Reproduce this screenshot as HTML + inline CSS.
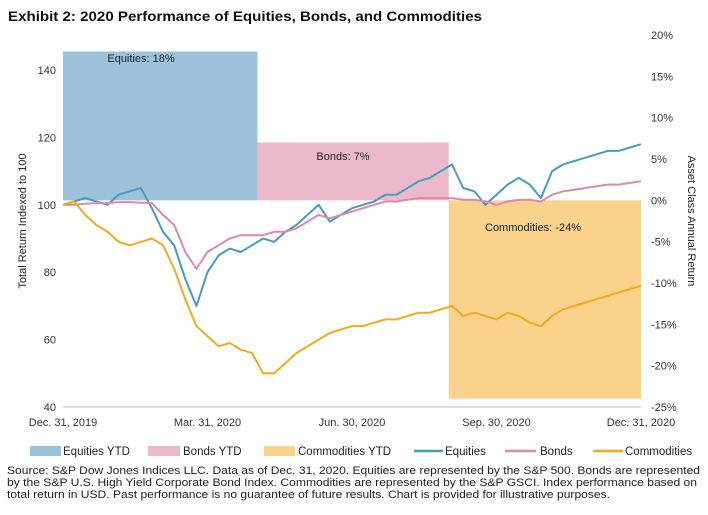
<!DOCTYPE html>
<html><head><meta charset="utf-8"><style>
body{margin:0;background:#fff;}
svg{display:block;font-family:"Liberation Sans",Arial,sans-serif;}
</style></head><body>
<svg id="chart" width="708" height="515" viewBox="0 0 708 515">
<text x="8" y="21" font-size="14" font-weight="bold" fill="#111" textLength="474" lengthAdjust="spacingAndGlyphs">Exhibit 2: 2020 Performance of Equities, Bonds, and Commodities</text>
<g id="boxes"></g>
<g id="lines"></g>
<g id="axes" font-size="11" fill="#333"></g>
<text transform="translate(26,221) rotate(-90)" text-anchor="middle" font-size="11" fill="#222">Total Return Indexed to 100</text>
<text transform="translate(688,221) rotate(90)" text-anchor="middle" font-size="11" fill="#222">Asset Class Annual Return</text>
<g font-size="11.5" fill="#222">
<rect x="30" y="446" width="31" height="10" fill="#9dc3dc"/>
<text x="63" y="455">Equities YTD</text>
<rect x="148" y="446" width="32" height="10" fill="#ebb9c8"/>
<text x="183" y="455">Bonds YTD</text>
<rect x="264" y="446" width="31" height="10" fill="#fad28c"/>
<text x="298" y="455">Commodities YTD</text>
<line x1="414" y1="451" x2="443" y2="451" stroke="#4a9ac0" stroke-width="2.5"/>
<text x="445" y="455">Equities</text>
<line x1="505" y1="451" x2="536" y2="451" stroke="#d98ab0" stroke-width="2.5"/>
<text x="540" y="455">Bonds</text>
<line x1="593" y1="451" x2="623" y2="451" stroke="#f5a91c" stroke-width="2.5"/>
<text x="625" y="455">Commodities</text>
</g>
<g font-size="11" fill="#222">
<text x="7" y="474" textLength="693" lengthAdjust="spacingAndGlyphs">Source: S&amp;P Dow Jones Indices LLC. Data as of Dec. 31, 2020. Equities are represented by the S&amp;P 500. Bonds are represented</text>
<text x="7" y="486" textLength="690" lengthAdjust="spacingAndGlyphs">by the S&amp;P U.S. High Yield Corporate Bond Index. Commodities are represented by the S&amp;P GSCI. Index performance based on</text>
<text x="7" y="498" textLength="603" lengthAdjust="spacingAndGlyphs">total return in USD. Past performance is no guarantee of future results. Chart is provided for illustrative purposes.</text>
</g>
</svg>
<script>
const xLabels = ["Dec. 31, 2019","Mar. 31, 2020","Jun. 30, 2020","Sep. 30, 2020","Dec. 31, 2020"];
const xLabelWeeks = [0,13,26,39,52];
const leftTicks = [40,60,80,100,120,140];
const rightTicks = [-25,-20,-15,-10,-5,0,5,10,15,20];
const boxNames = ["Equities","Bonds","Commodities"];
const boxReturns = [18,7,-24];
const boxStartWeek = [0,17.5,34.7];
const boxEndWeek = [17.5,34.7,52];
const equities = [100,101,102,101,100,103,104,105,99,92,88,78,70,80,85,87,86,88,90,89,92,94,97,100,95,97,99,100,101,103,103,105,107,108,110,112,105,104,100,103,106,108,106,102,110,112,113,114,115,116,116,117,118];
const bonds = [100,100,100.3,100.5,100.5,100.8,100.8,100.6,100.5,97,94,86,81,86,88,90,91,91,91,92,92,93,95,97,96,97,98,99,100,101,101,101.5,102,102,102,102,101.5,101.5,101,100,101,101.5,101.5,101,103,104,104.5,105,105.5,106,106,106.5,107];
const commodities = [100,101,97,94,92,89,88,89,90,88,81,72,64,61,58,59,57,56,50,50,53,56,58,60,62,63,64,64,65,66,66,67,68,68,69,70,67,68,67,66,68,67,65,64,67,69,70,71,72,73,74,75,76];

const NS="http://www.w3.org/2000/svg";
const X0=63,X1=641,YT=35,YB=407;
const xs=w=>X0+(X1-X0)*w/52;
const yl=v=>YB-(v-40)/(150.4-40)*(YB-YT);
const yr=p=>YB-(p+25)/45*(YB-YT);
function mk(tag,attrs,parent,txt){const e=document.createElementNS(NS,tag);for(const k in attrs)e.setAttribute(k,attrs[k]);if(txt!==undefined)e.textContent=txt;parent.appendChild(e);return e;}
const axes=document.getElementById('axes'),boxes=document.getElementById('boxes'),lines=document.getElementById('lines');
const boxFill=["#9dc3dc","#ebb9c8","#fad28c"];
const labelY=[62,160,231];
const labelX=[141,343,533];
boxNames.forEach((n,i)=>{
  const a=yr(0),b=yr(boxReturns[i]);
  const r=mk('rect',{x:xs(boxStartWeek[i]),y:Math.min(a,b),width:xs(boxEndWeek[i])-xs(boxStartWeek[i]),height:Math.abs(a-b),fill:boxFill[i]},boxes);
  
  
  const t=mk('text',{x:labelX[i],y:labelY[i],'text-anchor':'middle','font-size':'11',fill:'#222'},boxes,n+': '+boxReturns[i]+'%');
  
  
});
const al=mk('line',{x1:X0,x2:X1,y1:YB,y2:YB,stroke:'#bbb','stroke-width':1},axes);


xLabels.forEach((l,i)=>{
  const t=mk('text',{x:xs(xLabelWeeks[i]),y:426,'text-anchor':'middle'},axes,l);
  
  
});
leftTicks.forEach(v=>{
  const t=mk('text',{x:56,y:yl(v)+4,'text-anchor':'end'},axes,v);
  
  
});
rightTicks.forEach(v=>{
  const t=mk('text',{x:651,y:yr(v)+4},axes,v+'%');
  
  
});
const series=[["equities",equities,"#4a9ac0"],["bonds",bonds,"#d98ab0"],["commodities",commodities,"#f5a91c"]];
series.forEach(s=>{
  const d=s[1].map((v,i)=>(i?'L':'M')+xs(i).toFixed(1)+','+yl(v).toFixed(1)).join('');
  const p=mk('path',{d:d,fill:'none',stroke:s[2],'stroke-width':2,'stroke-linejoin':'round'},lines);
  
  
});
</script>
</body></html>
